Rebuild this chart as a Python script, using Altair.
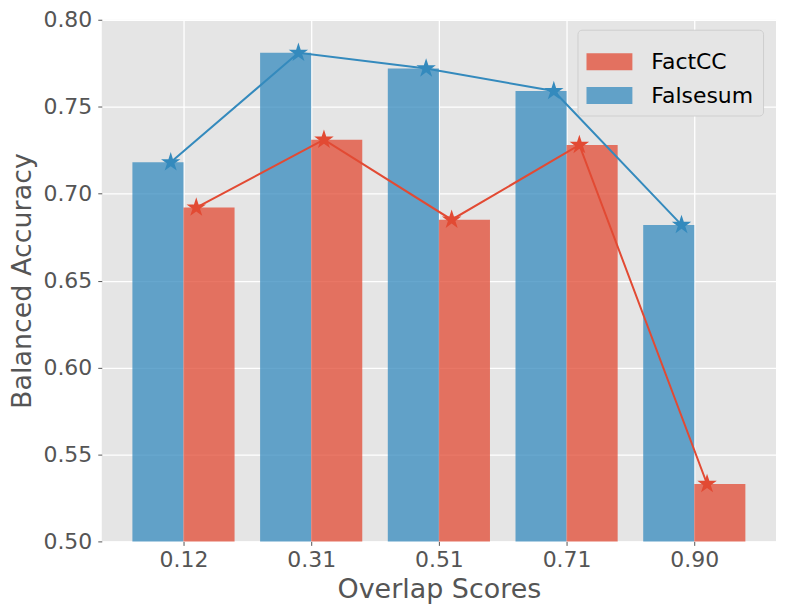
import altair as alt
import pandas as pd

# ---- data ----
bins = ["0.12", "0.31", "0.51", "0.71", "0.90"]
falsesum = [0.718, 0.781, 0.772, 0.759, 0.682]
factcc = [0.692, 0.731, 0.685, 0.728, 0.533]
models = ["FactCC", "Falsesum"]
colors = ["#E24A33", "#348ABD"]

# layout parameters (bin-index units)
bar_width = 0.4
bar_shift = {"Falsesum": -0.2, "FactCC": 0.2}
star_shift = {"Falsesum": -0.1, "FactCC": 0.1}

rows = []
for name, vals in (("Falsesum", falsesum), ("FactCC", factcc)):
    for i, v in enumerate(vals):
        c = i + bar_shift[name]
        rows.append({
            "model": name,
            "acc": v,
            "x0": round(c - bar_width / 2, 3),
            "x1": round(c + bar_width / 2, 3),
            "sx": round(i + star_shift[name], 3),
        })
df = pd.DataFrame(rows)

label_expr = " : ".join(
    f"datum.value == {i} ? '{b}'" for i, b in enumerate(bins)
) + " : ''"

STAR = ("M0,-1L0.2245,-0.309L0.951,-0.309L0.363,0.118L0.588,0.809L0,0.382"
        "L-0.588,0.809L-0.363,0.118L-0.951,-0.309L-0.2245,-0.309Z")
PATCH = "M-1,-0.37L1,-0.37L1,0.37L-1,0.37Z"

xscale = alt.Scale(domain=[-0.64, 4.64], nice=False, zero=False)
yscale = alt.Scale(domain=[0.5, 0.8], nice=False, zero=False)
cscale = alt.Scale(domain=models, range=colors)

base = alt.Chart(df)

bars = base.mark_bar(opacity=0.75).encode(
    x=alt.X("x0:Q", scale=xscale,
            axis=alt.Axis(values=[0, 1, 2, 3, 4], labelExpr=label_expr),
            title="Overlap Scores"),
    x2="x1:Q",
    y=alt.Y("acc:Q", scale=yscale,
            axis=alt.Axis(values=[0.5, 0.55, 0.6, 0.65, 0.7, 0.75, 0.8],
                          format=".2f"),
            title="Balanced Accuracy"),
    y2=alt.datum(0.5),
    color=alt.Color("model:N", scale=cscale,
                    legend=alt.Legend(
                        title=None,
                        orient="none",
                        legendX=477,
                        legendY=10,
                        symbolType=PATCH,
                        symbolSize=2116,
                        symbolStrokeWidth=0,
                        symbolOpacity=0.75,
                        labelFont="DejaVu Sans",
                        labelFontSize=22,
                        labelColor="#000000",
                        labelOffset=19,
                        rowPadding=-12,
                        padding=9,
                        fillColor="#E5E5E5",
                        strokeColor="#CFCFCF",
                        cornerRadius=4,
                    )),
)

lines = base.mark_line(strokeWidth=2).encode(
    x="sx:Q",
    y="acc:Q",
    color=alt.Color("model:N", scale=cscale, legend=None),
    order="sx:Q",
)

stars = base.mark_point(shape=STAR, filled=True, size=420, opacity=1).encode(
    x="sx:Q",
    y="acc:Q",
    color=alt.Color("model:N", scale=cscale, legend=None),
)

chart = alt.layer(bars, lines, stars).resolve_scale(color="independent").properties(
    width=676,
    height=523,
    autosize=alt.AutoSizeParams(type="none"),
    padding={"left": 94, "top": 11, "right": 5, "bottom": 70},
).configure_view(
    fill="#E5E5E5", strokeWidth=0
).configure_axis(
    gridColor="#FFFFFF",
    gridWidth=1.3,
    domain=False,
    tickColor="#555555",
    tickSize=4,
    tickWidth=1,
    labelFont="DejaVu Sans",
    labelFontSize=22,
    labelColor="#555555",
    titleFont="DejaVu Sans",
    titleFontSize=27,
    titleFontWeight="normal",
    titleColor="#555555",
).configure_axisY(
    labelPadding=6,
    titlePadding=6,
).configure_axisX(
    labelPadding=4,
    titlePadding=6,
)

chart.save("out.html", embed_options={"renderer": "svg", "actions": False})
